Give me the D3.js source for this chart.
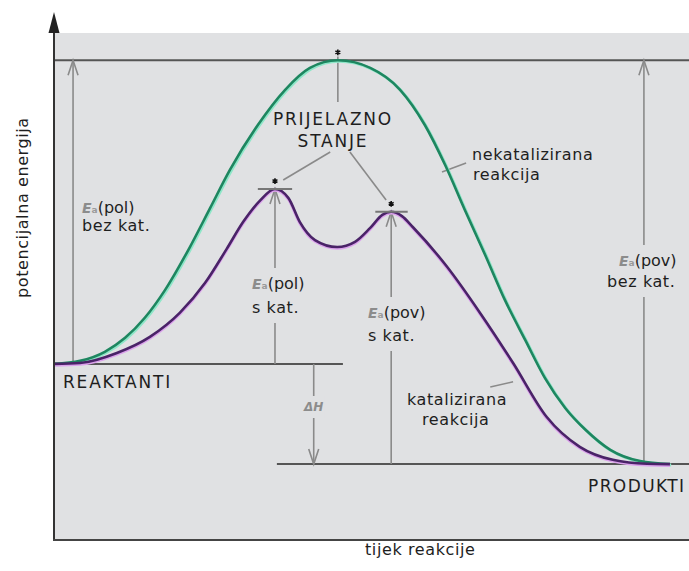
<!DOCTYPE html>
<html>
<head>
<meta charset="utf-8">
<script src="https://cdn.jsdelivr.net/npm/d3@7"></script>
<style>
  body { margin: 0; background: #fff; }
  svg { display: block; font-family: "DejaVu Sans", sans-serif; }
</style>
</head>
<body>
<div id="chart"></div>
<script>
// reaction progress runs 0..100, energy is relative to the reactants (uncatalysed TS = 100)
const E_REACT = 0
const E_PROD = -33
const E_TS = 100
const E_TS1 = 57.6
const E_TS2 = 50.1

// nekatalizirana reakcija
const uncatProgress = [0, 4.1, 8.0, 11.2, 14.3, 17.5, 21.4, 24.6, 27.7, 32.1, 36.4, 40.3, 44.7, 49.8, 54.5, 58.4, 61.6, 64.7, 67.9, 71.0, 74.2, 77.3, 80.5, 83.7, 87.6, 92.3, 97.0]
const uncatEnergy = [0, 1, 4, 8.6, 15.2, 24.4, 38.5, 51.4, 63.9, 78.7, 90.3, 97.5, 100, 97.5, 90.3, 78.7, 65.5, 50.7, 35.9, 21.1, 7.9, -4.6, -14.5, -21.7, -28.3, -32, -33]

// katalizirana reakcija
const catProgress = [0, 4.1, 9.9, 15.1, 19.8, 23.8, 27.2, 29.8, 32.4, 34.8, 36.9, 38.7, 41.1, 44.6, 47.4, 49.8, 51.7, 53.1, 54.8, 56.5, 61.9, 67.1, 72.3, 77.6, 82.8, 88.0, 93.4, 97.0]
const catEnergy = [0, 0.3, 3.6, 8.9, 16.8, 26.7, 37.9, 46.8, 53.7, 57.6, 54.7, 46.8, 40.8, 38.5, 40.2, 44.8, 49.1, 50.1, 48.7, 45.1, 32, 16.8, 0.3, -17.5, -27.3, -31.6, -32.9, -33]

// energy level lines: [energy, from progress, to progress]
const levelLines = [[E_TS, 0, 100], [E_REACT, 0, 45.5], [E_PROD, 35.1, 100]]
// small bars on the catalysed transition states
const tsBars = [[E_TS1, 32.1, 37.5], [E_TS2, 50.6, 55.7]]
// transition state markers: [progress, energy]
const tsStars = [[44.7, E_TS], [34.8, E_TS1], [53.1, E_TS2]]
// activation energy arrows: [progress, from, to]
const arrows = [[3.0, E_REACT, E_TS], [34.8, E_REACT, E_TS1], [53.1, E_PROD, E_TS2], [92.9, E_PROD, E_TS], [40.9, E_REACT, E_PROD]]
// pointer lines: [progress, energy, progress, energy]
const pointers = [[44.7, 101.3, 44.7, 86.3], [43.5, 69.8, 36.1, 60.6], [46.6, 69.8, 52.3, 54.0], [64.9, 66.2, 61.1, 63.2], [68.7, -7.6, 72.3, -5.9]]

const W = 689, H = 571
const PANEL = "#e0e1e3"
const svg = d3.select("#chart").append("svg").attr("width", W).attr("height", H)

const x = d3.scaleLinear().domain([0, 100]).range([54, 689])
const y = d3.scaleLinear().domain([-58, 109]).range([540, 33])

svg.append("rect")
  .attr("x", x(0)).attr("y", y(109))
  .attr("width", x(100) - x(0)).attr("height", y(-58) - y(109))
  .attr("fill", PANEL)

// level lines
svg.append("g").selectAll("line").data(levelLines).join("line")
  .attr("x1", d => x(d[1])).attr("x2", d => x(d[2]))
  .attr("y1", d => y(d[0])).attr("y2", d => y(d[0]))
  .attr("stroke", "#555").attr("stroke-width", 2)

// arrows (open V heads)
const arrowG = svg.append("g").attr("stroke", "#8a8a8a").attr("stroke-width", 1.6).attr("fill", "none")
arrows.forEach(([p, from, to]) => {
  const px = x(p), y0 = y(from), y1 = y(to)
  const dir = y1 < y0 ? 1 : -1
  arrowG.append("line").attr("x1", px).attr("x2", px).attr("y1", y0).attr("y2", y1)
  arrowG.append("polyline")
    .attr("points", [[px - 5, y1 + dir * 15], [px, y1], [px + 5, y1 + dir * 15]].map(d => d.join(",")).join(" "))
})

// pointer lines
svg.append("g").selectAll("line").data(pointers).join("line")
  .attr("x1", d => x(d[0])).attr("y1", d => y(d[1]))
  .attr("x2", d => x(d[2])).attr("y2", d => y(d[3]))
  .attr("stroke", "#8a8a8a").attr("stroke-width", 1.6)

// curves
const line = d3.line().x(d => x(d[0])).y(d => y(d[1])).curve(d3.curveMonotoneX)
const uncat = d3.zip(uncatProgress, uncatEnergy)
const cat = d3.zip(catProgress, catEnergy)

svg.append("path").datum(uncat).attr("d", line).attr("fill", "none")
  .attr("stroke", "#8ee6c8").attr("stroke-width", 3).attr("transform", "translate(1.2,1)")
svg.append("path").datum(uncat).attr("d", line).attr("fill", "none")
  .attr("stroke", "#1e8660").attr("stroke-width", 2.6)

svg.append("path").datum(cat).attr("d", line).attr("fill", "none")
  .attr("stroke", "#dba2ec").attr("stroke-width", 3).attr("transform", "translate(0,1.3)")
svg.append("path").datum(cat).attr("d", line).attr("fill", "none")
  .attr("stroke", "#4a2368").attr("stroke-width", 2.6)

// bars on catalysed transition states
svg.append("g").selectAll("line").data(tsBars).join("line")
  .attr("x1", d => x(d[1])).attr("x2", d => x(d[2]))
  .attr("y1", d => y(d[0])).attr("y2", d => y(d[0]))
  .attr("stroke", "#777").attr("stroke-width", 2)

// transition state stars
svg.append("g").selectAll("path").data(tsStars).join("path")
  .attr("d", d3.symbol(d3.symbolAsterisk || d3.symbolCross, 22))
  .attr("transform", d => `translate(${x(d[0])},${y(d[1]) - 8})`)
  .attr("stroke", "#111").attr("stroke-width", 1.6).attr("fill", "#111")

// axes
svg.append("line").attr("x1", 54).attr("x2", 54).attr("y1", y(-58)).attr("y2", 30)
  .attr("stroke", "#333").attr("stroke-width", 2)
svg.append("path").attr("d", "M54,12L48.5,33L59.5,33Z").attr("fill", "#222")
svg.append("line").attr("x1", 53).attr("x2", W).attr("y1", y(-58)).attr("y2", y(-58))
  .attr("stroke", "#444").attr("stroke-width", 2)

// plain labels
const txt = (s, tx, ty, opts = {}) => {
  const t = svg.append("text").attr("x", tx).attr("y", ty)
    .attr("font-size", opts.size || 16)
    .attr("fill", "#1e1e1e")
    .attr("letter-spacing", opts.ls != null ? opts.ls : 0.6)
    .attr("text-anchor", opts.anchor || "start")
    .text(s)
  if (opts.rotate) t.attr("transform", `rotate(-90,${tx},${ty})`)
  return t
}

txt("PRIJELAZNO", 333, 125, {anchor: "middle", size: 17, ls: 1.8})
txt("STANJE", 333, 147, {anchor: "middle", size: 17, ls: 1.8})
txt("nekatalizirana", 472, 160)
txt("reakcija", 473, 180)
txt("katalizirana", 407, 405)
txt("reakcija", 422, 425)
txt("REAKTANTI", 63, 388, {size: 17, ls: 1.8})
txt("PRODUKTI", 588, 492, {size: 17, ls: 1.4})
txt("tijek reakcije", 365, 555)
txt("potencijalna energija", 28, 298, {rotate: true})

// Ea labels (boxes cut the arrow lines)
const eaLabel = (kind, second, tx, ty, dy, boxed, tx2) => {
  const g = svg.append("g")
  const bg = g.append("rect").attr("fill", PANEL)
  const t1 = g.append("text").attr("x", tx).attr("y", ty).attr("font-size", 16).attr("fill", "#1e1e1e")
  t1.append("tspan").attr("font-style", "italic").attr("font-weight", "bold").attr("fill", "#8c8c8c").attr("font-size", 14).text("E")
  t1.append("tspan").attr("font-size", 9).attr("fill", "#9a9a9a").attr("font-weight", "bold").text("a")
  t1.append("tspan").text(`(${kind})`)
  g.append("text").attr("x", tx2 != null ? tx2 : tx).attr("y", ty + dy).attr("font-size", 16).attr("fill", "#1e1e1e")
    .attr("letter-spacing", 0.6).text(second)
  if (boxed) {
    const b = g.node().getBBox()
    bg.attr("x", b.x - 2).attr("y", b.y - 6).attr("width", b.width + 4).attr("height", b.height + 12)
  }
}

eaLabel("pol", "bez kat.", 82, 213, 18, false)
eaLabel("pol", "s kat.", 252, 289, 24, true)
eaLabel("pov", "s kat.", 368, 318, 23, true)
eaLabel("pov", "bez kat.", 619, 266, 21, true, 607)

// delta H
const dh = svg.append("g")
const dhBg = dh.append("rect").attr("fill", PANEL)
const dhText = dh.append("text").attr("x", x(40.9)).attr("y", 411).attr("text-anchor", "middle")
  .attr("font-size", 12).attr("fill", "#8c8c8c").attr("font-style", "italic").attr("font-weight", "bold").text("ΔH")
const db = dhText.node().getBBox()
dhBg.attr("x", db.x - 1).attr("y", db.y - 4).attr("width", db.width + 2).attr("height", db.height + 8)
</script>
</body>
</html>
